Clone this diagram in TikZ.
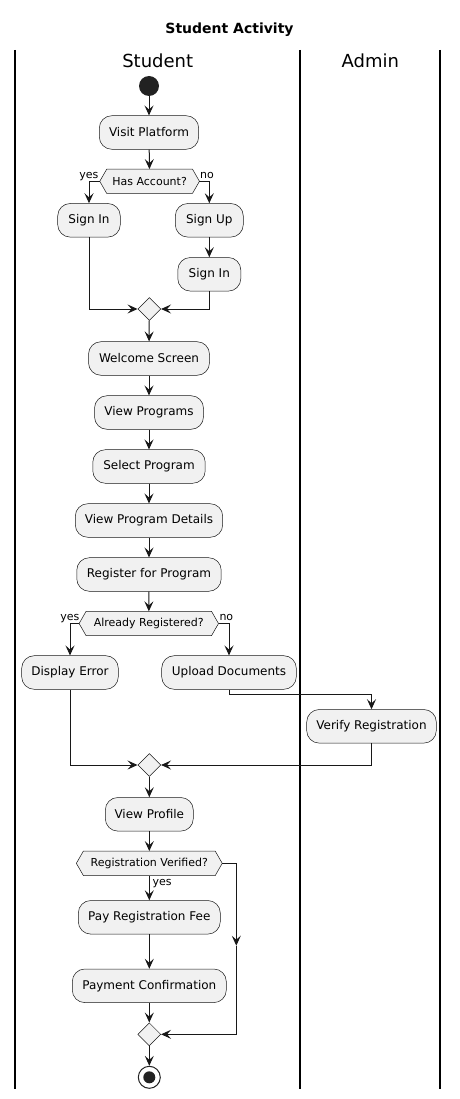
\documentclass[tikz,border=0pt]{standalone}
\usepackage{fontspec}
\setmainfont{DejaVu Sans}
\usetikzlibrary{shapes.geometric,arrows.meta,backgrounds}
\definecolor{fillc}{HTML}{F1F1F1}
\definecolor{linec}{HTML}{181818}
\definecolor{startc}{HTML}{222222}
\begin{document}
\begin{tikzpicture}[x=1pt,y=-1pt,
  act/.style={draw=linec, line width=0.5pt, fill=fillc, rounded corners=12.5pt, minimum height=33.6pt, inner sep=0pt, font=\fontsize{12}{14}\selectfont},
  dec/.style={inner sep=0pt, minimum height=24pt, font=\fontsize{11}{13}\selectfont},
  hexs/.style={draw=linec, line width=0.5pt, fill=fillc},
  merge/.style={diamond, draw=linec, line width=0.5pt, fill=fillc, minimum width=23pt, minimum height=23pt, inner sep=0pt},
  arr/.style={draw=linec, line width=1pt, -{Stealth[length=10pt,width=9pt,inset=4pt]}},
  lbl/.style={inner sep=0pt, font=\fontsize{11}{13}\selectfont},
  lane/.style={draw=black, line width=1.5pt},
  hdr/.style={inner sep=0pt, font=\fontsize{18}{22}\selectfont},
]
\useasboundingbox (0,0) rectangle (459,1099);
\node[inner sep=0pt, font=\bfseries\fontsize{14}{16}\selectfont] (title) at (229.5,30) {Student Activity};
% lanes
\coordinate (l1t) at (15,50);  \coordinate (l1b) at (15,1089);
\coordinate (l2t) at (300,50); \coordinate (l2b) at (300,1089);
\coordinate (l3t) at (440,50); \coordinate (l3b) at (440,1089);
\draw[lane] (l1t) -- (l1b);
\draw[lane] (l2t) -- (l2b);
\draw[lane] (l3t) -- (l3b);
\node[hdr] (hstudent) at (157.7,61) {Student};
\node[hdr] (hadmin) at (370.3,61) {Admin};

% nodes
\node[circle, fill=startc, minimum size=20pt, inner sep=0pt] (start) at (149,86) {};
\node[act, minimum width=99.4pt] (visit) at (149,132.5) {Visit Platform};
\node[dec, minimum width=99.3pt] (hasacc) at (149.6,181.3) {Has Account?};
\node[act, minimum width=62.6pt] (si1) at (89,220.3) {Sign In};
\node[act, minimum width=68pt] (su) at (209.3,220.3) {Sign Up};
\node[act, minimum width=63pt] (si2) at (209.3,274.3) {Sign In};
\node[merge] (d1) at (149.3,309) {};
\node[act, minimum width=121pt] (welcome) at (149,358.5) {Welcome Screen};
\node[act, minimum width=109pt] (vp) at (149,412.5) {View Programs};
\node[act, minimum width=112.4pt] (sp) at (149,466.5) {Select Program};
\node[act, minimum width=147.4pt] (vpd) at (149,520.5) {View Program Details};
\node[act, minimum width=144.4pt] (rfp) at (149,574.5) {Register for Program};
\node[dec, minimum width=139pt] (areg) at (148.8,623.5) {Already Registered?};
\node[act, minimum width=96.6pt] (de) at (70,672.5) {Display Error};
\node[act, minimum width=134.6pt] (ud) at (229,672.5) {Upload Documents};
\node[act, minimum width=129.6pt] (vr) at (371.5,726.3) {Verify Registration};
\node[merge] (d2) at (149.3,765) {};
\node[act, minimum width=88pt] (prof) at (149.3,814.3) {View Profile};
\node[dec, minimum width=145.5pt] (rv) at (149.3,863.3) {Registration Verified?};
\node[act, minimum width=142pt] (pay) at (149.3,917.3) {Pay Registration Fee};
\node[act, minimum width=154pt] (conf) at (149.3,985.8) {Payment Confirmation};
\node[merge] (d3) at (149.3,1034.3) {};
\node[circle, draw=startc, line width=1pt, minimum size=22pt, inner sep=0pt,
  path picture={\fill[startc] (path picture bounding box.center) circle (6pt);}] (stop) at (149.3,1077.3) {};

% hexagons
\begin{pgfonlayer}{background}
\foreach \n in {hasacc,areg,rv}
  \draw[hexs] (\n.west) -- ([xshift=7pt]\n.north west) -- ([xshift=-7pt]\n.north east) -- (\n.east) -- ([xshift=-7pt]\n.south east) -- ([xshift=7pt]\n.south west) -- cycle;
\end{pgfonlayer}

% labels
\node[lbl, anchor=base east] (y1) at (98.5,179) {yes};
\node[lbl, anchor=base west] (n1) at (200,179) {no};
\node[lbl, anchor=base east] (y2) at (79.5,620.7) {yes};
\node[lbl, anchor=base west] (n2) at (219.3,620.7) {no};
\node[lbl, anchor=base west] (y3) at (152.5,885) {yes};

% edges
\draw[arr] (start) -- (visit);
\draw[arr] (visit) -- (hasacc);
\draw[arr] (hasacc.west) -| (si1);
\draw[arr] (hasacc.east) -| (su);
\draw[arr] (su) -- (si2);
\draw[arr] (si1) |- (d1);
\draw[arr] (si2) |- (d1);
\draw[arr] (d1) -- (welcome);
\draw[arr] (welcome) -- (vp);
\draw[arr] (vp) -- (sp);
\draw[arr] (sp) -- (vpd);
\draw[arr] (vpd) -- (rfp);
\draw[arr] (rfp) -- (areg);
\draw[arr] (areg.west) -| (de);
\draw[arr] (areg.east) -| (ud);
\draw[arr] (ud.south) -- ++(0,5) -| (vr);
\draw[arr] (de) |- (d2);
\draw[arr] (vr) |- (d2);
\draw[arr] (d2) -- (prof);
\draw[arr] (prof) -- (rv);
\draw[arr] (rv) -- (pay);
\draw[arr] (pay) -- (conf);
\draw[arr] (conf) -- (d3);
\coordinate (rvmid) at (236.3,945.7);
\draw[arr] (rv.east) -| (rvmid);
\draw[arr] (rvmid) |- (d3);
\draw[arr] (d3) -- (stop);
\end{tikzpicture}
\end{document}
